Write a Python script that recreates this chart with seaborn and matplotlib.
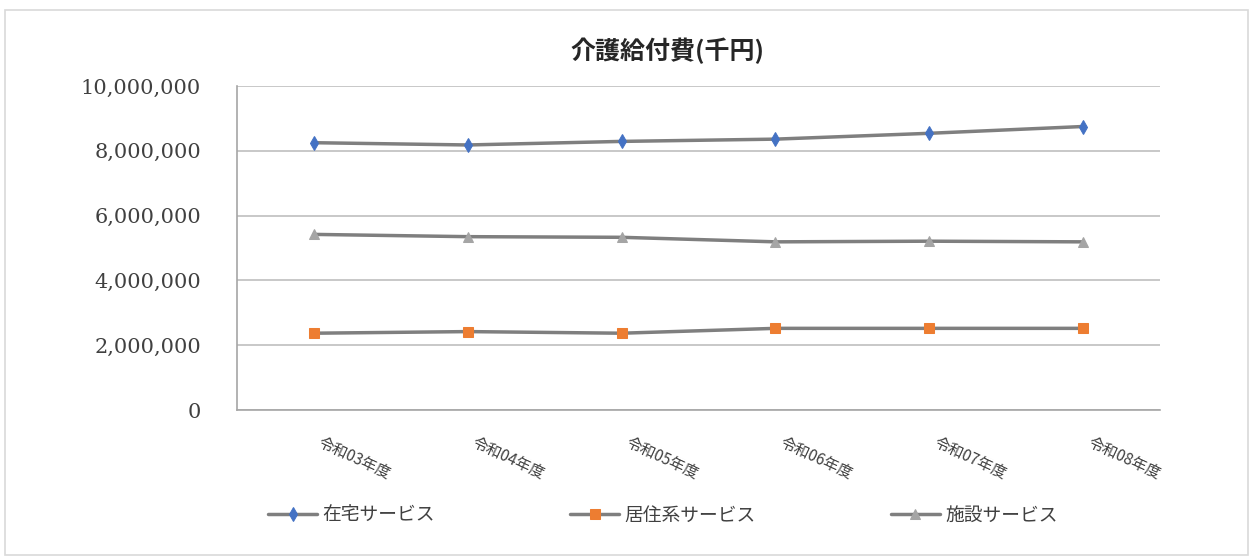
import pandas as pd
import numpy as np
import matplotlib
matplotlib.use('Agg')
import matplotlib.pyplot as plt
import matplotlib.ticker as mticker
import matplotlib.transforms as mtransforms
from matplotlib.patches import Rectangle
import seaborn as sns

# 介護給付費(千円) の推移
categories = ['令和03年度', '令和04年度', '令和05年度', '令和06年度', '令和07年度', '令和08年度']
home = [8250000, 8180000, 8290000, 8360000, 8540000, 8750000]          # 在宅サービス
residential = [2370000, 2420000, 2370000, 2520000, 2520000, 2520000]   # 居住系サービス
facility = [5420000, 5350000, 5330000, 5190000, 5210000, 5190000]      # 施設サービス
series_names = ['在宅サービス', '居住系サービス', '施設サービス']
y_ticks = [0, 2000000, 4000000, 6000000, 8000000, 10000000]

df = pd.DataFrame({'年度': categories * 3,
                   '費用': home + residential + facility,
                   '区分': np.repeat(series_names, len(categories))})

sns.set_style('white')
plt.rcParams['font.family'] = ['Noto Sans CJK JP', 'DejaVu Sans']

fig = plt.figure(figsize=(12.53, 5.59), dpi=100)
ax = fig.add_axes([237 / 1253, 1 - 410 / 559, (1160 - 237) / 1253, (410 - 86) / 559])

line_grey = '#7f7f7f'
styles = {
    '在宅サービス': dict(marker='d', markersize=7, markerfacecolor='#4472C4', markeredgecolor='#4472C4'),
    '居住系サービス': dict(marker='s', markersize=6.5, markerfacecolor='#ED7D31', markeredgecolor='#ED7D31'),
    '施設サービス': dict(marker='^', markersize=6.5, markerfacecolor='#a5a5a5', markeredgecolor='#a5a5a5'),
}
for name in series_names:
    sub = df[df['区分'] == name]
    sns.lineplot(data=sub, x='年度', y='費用', ax=ax, color=line_grey, linewidth=2.5,
                 label=name, sort=False, **styles[name])

ax.set_xlim(-0.5, len(categories) - 0.5)
ax.set_ylim(0, 10000000)
ax.set_yticks(y_ticks)
ax.yaxis.set_major_formatter(mticker.FuncFormatter(lambda v, p: f'{int(v):,}'))
ax.grid(axis='y', color='#bfbfbf', linewidth=1.2)
ax.set_axisbelow(True)
ax.set_xlabel('')
ax.set_ylabel('')

for s in ['top', 'right']:
    ax.spines[s].set_visible(False)
for s in ['left', 'bottom']:
    ax.spines[s].set_color('#a6a6a6')
    ax.spines[s].set_linewidth(1.2)

ax.tick_params(axis='y', length=8, width=1.2, color='#a6a6a6', pad=18, labelsize=15, labelcolor='#404040')
for lab in ax.get_yticklabels():
    lab.set_fontfamily('DejaVu Serif')

ax.set_xticks(range(len(categories)))
ax.set_xticklabels(categories, rotation=-25, ha='left', va='top', rotation_mode='anchor',
                   fontsize=11, color='#404040')
ax.tick_params(axis='x', length=0, pad=17)
shift = mtransforms.ScaledTranslation(9 / 100, 0, fig.dpi_scale_trans)
for lab in ax.get_xticklabels():
    lab.set_transform(lab.get_transform() + shift)
ax.set_xticks(np.arange(-0.5, len(categories)), minor=True)
ax.tick_params(axis='x', which='minor', length=5, width=1.2, color='#a6a6a6')

fig.text(667 / 1253, 1 - 51 / 559, '介護給付費(千円)', ha='center', va='center',
         fontsize=18, fontweight='bold', color='#262626')

ax.legend(loc='center', bbox_to_anchor=(663 / 1253, 1 - 515 / 559), bbox_transform=fig.transFigure,
          ncol=3, frameon=False, fontsize=13.5, handlelength=2.6, handletextpad=0.3,
          columnspacing=7.2, labelcolor='#404040')

fig.patches.append(Rectangle((5 / 1253, 4 / 559), 1243 / 1253, 545 / 559, transform=fig.transFigure,
                             fill=False, edgecolor='#d9d9d9', linewidth=1.2))

fig.savefig('out.png', dpi=100)
